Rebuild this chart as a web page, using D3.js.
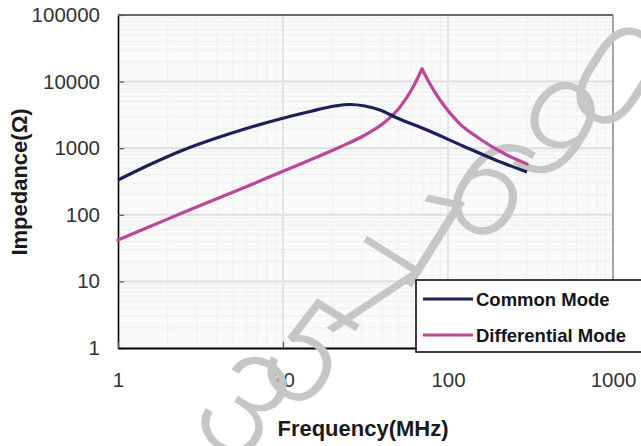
<!DOCTYPE html>
<html>
<head>
<meta charset="utf-8">
<script src="https://cdn.jsdelivr.net/npm/d3@7"></script>
<style>
  html, body { margin: 0; padding: 0; background: #ffffff; }
  svg { display: block; }
</style>
</head>
<body>
<svg id="chart" width="641" height="446"></svg>
<script>
// ---- data ----
const seriesNames = ["Common Mode", "Differential Mode"];
const commonFreq = [1, 1.563, 2.443, 3.873, 6.138, 9.59, 14.58, 20.66, 25.47, 31.4, 38.7, 49.1, 74.6, 123.3, 187.4, 301];
const commonZ    = [333, 569, 924, 1398, 2011, 2744, 3556, 4301, 4530, 4301, 3747, 2841, 1876, 1079, 688, 439];
const diffFreq = [1, 1.563, 2.443, 3.873, 6.138, 9.59, 14.58, 22.16, 31.4, 41.5, 51.2, 60.5, 69.6, 77.8, 89.4, 115, 156.3, 221.6, 301];
const diffZ    = [41.8, 66.7, 106.4, 169.7, 270.6, 431.7, 665, 1042, 1578, 2473, 4155, 7743, 15460, 9204, 5292, 2473, 1375, 818, 579];
const xTicks = [1, 10, 100, 1000];
const yTicks = [1, 10, 100, 1000, 10000, 100000];
const xTitle = "Frequency(MHz)";
const yTitle = "Impedance(\u03A9)";
const watermark = "3571690";

// ---- layout ----
const svg = d3.select("#chart");
const X0 = 118, X1 = 613, Y0 = 15, Y1 = 348;
const x = d3.scaleLog().domain([1, 1000]).range([X0, X1]);
const y = d3.scaleLog().domain([1, 100000]).range([Y1, Y0]);
const colors = ["#1b1f5c", "#bd4699"];
const FONT = "'Liberation Sans', Arial, sans-serif";

// plot background
svg.append("rect").attr("x", X0).attr("y", Y0).attr("width", X1 - X0).attr("height", Y1 - Y0)
  .attr("fill", "#fafafa");

// grid
const minorY = [];
for (let d = 1; d < 100000; d *= 10) for (let k = 2; k <= 9; k++) minorY.push(d * k);
const minorX = [];
for (let d = 1; d < 1000; d *= 10) for (let k = 2; k <= 9; k++) minorX.push(d * k);
const grid = svg.append("g");
grid.selectAll(".my").data(minorY).join("line")
  .attr("x1", X0).attr("x2", X1).attr("y1", d => y(d)).attr("y2", d => y(d))
  .attr("stroke", "#eeeeee").attr("stroke-width", 1);
grid.selectAll(".mx").data(minorX).join("line")
  .attr("y1", Y0).attr("y2", Y1).attr("x1", d => x(d)).attr("x2", d => x(d))
  .attr("stroke", "#f1f1f1").attr("stroke-width", 1);
grid.selectAll(".gy").data(yTicks.slice(1, -1)).join("line")
  .attr("x1", X0).attr("x2", X1).attr("y1", d => y(d)).attr("y2", d => y(d))
  .attr("stroke", "#dedede").attr("stroke-width", 2);
grid.selectAll(".gx").data(xTicks.slice(1, -1)).join("line")
  .attr("y1", Y0).attr("y2", Y1).attr("x1", d => x(d)).attr("x2", d => x(d))
  .attr("stroke", "#e4e4e4").attr("stroke-width", 2);

// top and right frame
svg.append("line").attr("x1", X0).attr("x2", X1).attr("y1", Y0).attr("y2", Y0)
  .attr("stroke", "#3a3a3a").attr("stroke-width", 1.5);
svg.append("line").attr("x1", X1).attr("x2", X1).attr("y1", Y0).attr("y2", Y1)
  .attr("stroke", "#8a8a8a").attr("stroke-width", 1.5);

// axes
const fmt = d => String(d);
const yAxis = svg.append("g").attr("transform", `translate(${X0},0)`)
  .call(d3.axisLeft(y).tickValues(yTicks).tickFormat(fmt).tickSizeInner(-6).tickSizeOuter(0).tickPadding(18));
const xAxis = svg.append("g").attr("transform", `translate(0,${Y1})`)
  .call(d3.axisBottom(x).tickValues(xTicks).tickFormat(fmt).tickSizeInner(-6).tickSizeOuter(0).tickPadding(24));
[yAxis, xAxis].forEach(g => {
  g.selectAll("text").attr("font-family", FONT).attr("font-size", 20.5).attr("fill", "#333333");
  g.selectAll(".tick line").attr("stroke", "#555").attr("stroke-width", 1.2);
});
yAxis.select(".domain").attr("stroke", "#000").attr("stroke-width", 1.6);
xAxis.select(".domain").attr("stroke", "#000").attr("stroke-width", 2.2);

// titles
svg.append("text").attr("x", 363).attr("y", 436).attr("text-anchor", "middle")
  .attr("font-family", FONT).attr("font-weight", "bold")
  .attr("font-size", 22).attr("fill", "#1a1a1a").text(xTitle);
svg.append("text").attr("transform", "translate(27,182) rotate(-90)").attr("text-anchor", "middle")
  .attr("font-family", FONT).attr("font-weight", "bold")
  .attr("font-size", 22).attr("fill", "#1a1a1a").text(yTitle);

// watermark: grey digits along the diagonal, each glyph leaning right
const wm = svg.append("g").attr("fill", "#c6c6c6");
watermark.split("").forEach((ch, i) => {
  const cx = 430 + 62 * (i - 3), cy = 242 - 55 * (i - 3);
  wm.append("text").attr("transform", `translate(${cx},${cy}) rotate(32)`)
    .attr("text-anchor", "middle").attr("dominant-baseline", "central")
    .attr("font-family", "Roboto, 'Liberation Sans', sans-serif").attr("font-weight", 300)
    .attr("font-size", 140).text(ch);
});

// series (drawn over the watermark)
const lineMono = d3.line().x(d => x(d[0])).y(d => y(d[1])).curve(d3.curveMonotoneX);
const cmData = commonFreq.map((f, i) => [f, commonZ[i]]);
const dmData = diffFreq.map((f, i) => [f, diffZ[i]]);
// differential mode: resonance cusp -> rising and falling branches meet at the peak
const pk = d3.maxIndex(dmData, d => d[1]);
[dmData.slice(0, pk + 1), dmData.slice(pk)].forEach(part => {
  svg.append("path").datum(part).attr("d", lineMono).attr("fill", "none")
    .attr("stroke", colors[1]).attr("stroke-width", 3.2)
    .attr("stroke-linejoin", "round").attr("stroke-linecap", "round");
});
svg.append("path").datum(cmData).attr("d", lineMono).attr("fill", "none")
  .attr("stroke", colors[0]).attr("stroke-width", 3.2).attr("stroke-linejoin", "round");

// legend
const lg = svg.append("g");
lg.append("rect").attr("x", 416).attr("y", 280).attr("width", 240).attr("height", 72)
  .attr("fill", "#ffffff").attr("stroke", "#111").attr("stroke-width", 1.6);
seriesNames.forEach((name, i) => {
  const ly = 299 + i * 36;
  lg.append("line").attr("x1", 423).attr("x2", 473).attr("y1", ly).attr("y2", ly)
    .attr("stroke", colors[i]).attr("stroke-width", 3.2);
  lg.append("text").attr("x", 476).attr("y", ly).attr("dy", "0.36em")
    .attr("font-family", FONT).attr("font-weight", "bold")
    .attr("font-size", 18.5).attr("fill", "#151515").text(name);
});
</script>
</body>
</html>
